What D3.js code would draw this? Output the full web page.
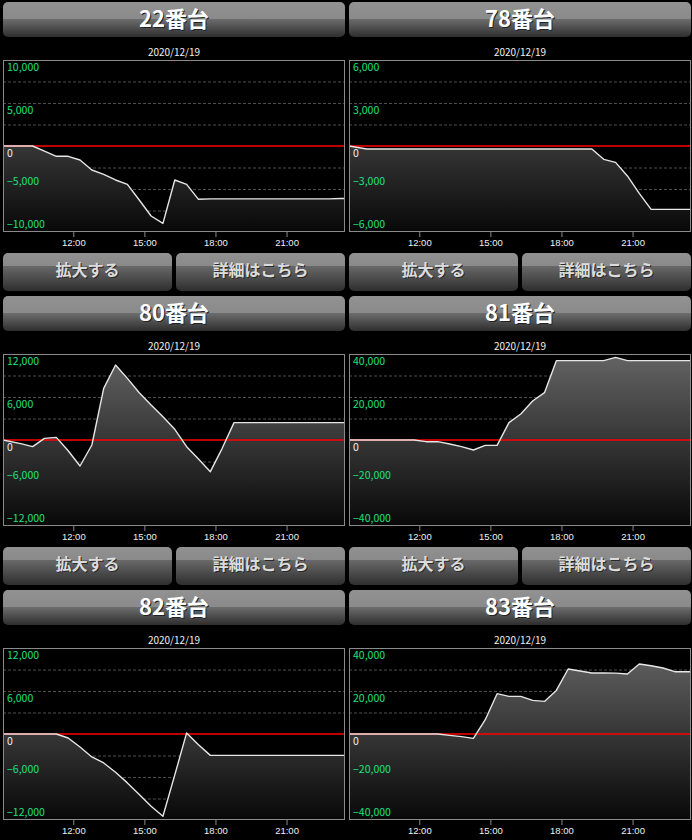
<!DOCTYPE html>
<html><head><meta charset="utf-8">
<script src="https://cdn.jsdelivr.net/npm/d3@7"></script>
<style>html,body{margin:0;padding:0;background:#000;overflow:hidden}svg{display:block}</style>
</head><body><svg id="c" width="692" height="840"></svg>
<script>
// ---------- data ----------
const times = ["09:02","09:47","10:17","10:47","11:17","11:47","12:17","12:47","13:17","13:47",
  "14:17","14:47","15:17","15:47","16:17","16:47","17:17","17:47","18:17","18:47",
  "19:17","19:47","20:17","20:47","21:17","21:47","22:17","22:47","23:17","23:28"];
const dateLabel = "2020/12/19";
const titles = ["22番台","78番台","80番台","81番台","82番台","83番台"];
const yMax = [10000, 6000, 12000, 40000, 12000, 40000];
const xTicks = ["12:00","15:00","18:00","21:00"];
const xDomain = ["09:02","23:28"];
const buttonLabels = ["拡大する","詳細はこちら"];

const s22 = [0,0,0,-600,-1200,-1200,-1630,-2790,-3300,-3950,
  -4460,-6280,-8140,-9000,-3950,-4460,-6200,-6150,-6150,-6150,
  -6150,-6150,-6150,-6150,-6150,-6150,-6150,-6150,-6100,-6100];
const s78 = [0,-210,-210,-210,-210,-210,-210,-210,-210,-210,
  -210,-210,-210,-210,-210,-210,-210,-210,-210,-210,
  -210,-930,-1140,-2090,-3300,-4420,-4420,-4420,-4420,-4420];
const s80 = [0,-500,-930,230,370,-1500,-3630,-700,7210,10460,
  8600,6600,4880,3250,1490,-930,-2650,-4420,-1160,2420,
  2420,2420,2420,2420,2420,2420,2420,2420,2420,2420];
const s81 = [0,0,0,0,0,0,-780,-780,-1860,-3100,
  -4650,-2480,-2480,8060,12090,18140,22020,36900,36900,36900,
  36900,36900,38450,36900,36900,36900,36900,36900,36900,36900];
const s82 = [0,0,0,0,0,-560,-1810,-3200,-4040,-5340,
  -6820,-8450,-10080,-11470,-5710,150,-1490,-2980,-2980,-2980,
  -2980,-2980,-2980,-2980,-2980,-2980,-2980,-2980,-2980,-2980];
const s83 = [0,0,0,0,0,0,0,0,-620,-1240,
  -2020,6650,18750,17500,17500,15630,15160,20280,30230,29300,
  28370,28370,28300,27900,32560,31770,30700,28980,28980,28980];
const seriesList = [s22, s78, s80, s81, s82, s83];

// ---------- drawing ----------
const toMin = s => { const [h, m] = s.split(":").map(Number); return h * 60 + m; };
const svg = d3.select("#c");
const defs = svg.append("defs");
const FONT = "'Noto Sans CJK JP','Noto Sans',sans-serif";
const TICKFONT = "'Liberation Sans','DejaVu Sans',sans-serif";

function grad(id, stops) {
  const g = defs.append("linearGradient").attr("id", id).attr("x1", 0).attr("y1", 0).attr("x2", 0).attr("y2", 1);
  stops.forEach(([o, c]) => g.append("stop").attr("offset", o).attr("stop-color", c));
}
grad("titleG", [[0, "#929292"], [0.48, "#8a8a8a"], [0.48, "#6e6e6e"], [1, "#2e2e2e"]]);
grad("btnG", [[0, "#919191"], [0.33, "#8a8a8a"], [0.33, "#6a6a6a"], [1, "#2e2e2e"]]);

const PW = 342, PH = 172;
const areaG = defs.append("linearGradient").attr("id", "areaG")
  .attr("gradientUnits", "userSpaceOnUse").attr("x1", 0).attr("y1", 0).attr("x2", 0).attr("y2", PH);
areaG.append("stop").attr("offset", 0).attr("stop-color", "#646464");
areaG.append("stop").attr("offset", 1).attr("stop-color", "#080808");

const fmt = d3.format(",");

seriesList.forEach((vals, i) => {
  const col = i % 2, row = Math.floor(i / 2);
  const g = svg.append("g").attr("transform", `translate(${col * 346},${row * 294})`);

  // title bar
  g.append("rect").attr("x", 3).attr("y", 2).attr("width", PW).attr("height", 35)
    .attr("rx", 5).attr("fill", "url(#titleG)");
  g.append("text").attr("x", 3 + PW / 2 + 1).attr("y", 28).attr("text-anchor", "middle")
    .attr("font-family", FONT).attr("font-weight", "bold").attr("font-size", 22)
    .attr("fill", "#222").text(titles[i]);
  g.append("text").attr("x", 3 + PW / 2).attr("y", 27).attr("text-anchor", "middle")
    .attr("font-family", FONT).attr("font-weight", "bold").attr("font-size", 22)
    .attr("fill", "#ffffff").text(titles[i]);

  // date
  g.append("text").attr("x", 3 + PW / 2).attr("y", 55.5).attr("text-anchor", "middle")
    .attr("font-family", FONT).attr("font-size", 10).attr("fill", "#f0f0f0").text(dateLabel);

  // plot
  const p = g.append("g").attr("transform", "translate(3,60)");
  const x = d3.scaleLinear().domain(xDomain.map(toMin)).range([0, PW]);
  const M = yMax[i];
  const y = d3.scaleLinear().domain([-M, M]).range([PH, 0]);

  p.append("rect").attr("width", PW).attr("height", PH).attr("fill", "#000");

  // grid
  const gridVals = d3.range(-M, M + 1, M / 4).filter(v => v !== 0 && Math.abs(v) !== M);
  p.selectAll("line.grid").data(gridVals).join("line")
    .attr("x1", 0).attr("x2", PW).attr("y1", d => y(d) + 0.5).attr("y2", d => y(d) + 0.5)
    .attr("stroke", "#4e4e4e").attr("stroke-dasharray", "3,2");

  const pts = times.map((t, k) => [toMin(t), vals[k]]);
  const area = d3.area().x(d => x(d[0])).y0(PH).y1(d => y(d[1]));
  const line = d3.line().x(d => x(d[0])).y(d => y(d[1]));
  p.append("path").datum(pts).attr("d", area).attr("fill", "url(#areaG)");

  // zero line
  p.append("line").attr("x1", 0).attr("x2", PW).attr("y1", y(0)).attr("y2", y(0))
    .attr("stroke", "#ff0000").attr("stroke-width", 1.5);

  p.append("path").datum(pts).attr("d", line).attr("fill", "none")
    .attr("stroke", "#e6e6e6").attr("stroke-width", 1.4).attr("stroke-linejoin", "round");

  // border
  p.append("rect").attr("x", 0.5).attr("y", 0.5).attr("width", PW - 1).attr("height", PH - 1)
    .attr("fill", "none").attr("stroke", "#8a8a8a");

  // y labels
  const labVals = [M, M / 2, 0, -M / 2, -M];
  p.selectAll("text.yl").data(labVals).join("text")
    .attr("x", 4).attr("y", d => d >= 0 ? y(d) + 11 : y(d) - 4)
    .attr("font-family", FONT).attr("font-size", 10.5)
    .attr("fill", d => d === 0 ? "#f0f0f0" : "#1fe07a")
    .text(d => fmt(d));

  // x axis
  const xa = d3.axisBottom(x).tickValues(xTicks.map(toMin)).tickSize(5)
    .tickFormat((d, k) => xTicks[k]);
  const ax = p.append("g").attr("transform", `translate(0,${PH})`).call(xa);
  ax.select(".domain").remove();
  ax.selectAll(".tick line").attr("stroke", "#8a8a8a");
  ax.selectAll(".tick text").attr("y", 7).attr("font-family", TICKFONT).attr("font-size", 9.5)
    .attr("fill", "#f0f0f0");

  // buttons
  const bw = 169;
  [[3, buttonLabels[0]], [176, buttonLabels[1]]].forEach(([bx, lab]) => {
    g.append("rect").attr("x", bx).attr("y", 253).attr("width", bw).attr("height", 38)
      .attr("rx", 5).attr("fill", "url(#btnG)");
    g.append("text").attr("x", bx + bw / 2 + 1).attr("y", 277).attr("text-anchor", "middle")
      .attr("font-family", FONT).attr("font-weight", "bold").attr("font-size", 16)
      .attr("fill", "#2a2a2a").text(lab);
    g.append("text").attr("x", bx + bw / 2).attr("y", 276).attr("text-anchor", "middle")
      .attr("font-family", FONT).attr("font-weight", "bold").attr("font-size", 16)
      .attr("fill", "#dcdcdc").text(lab);
  });
});
</script></body></html>
